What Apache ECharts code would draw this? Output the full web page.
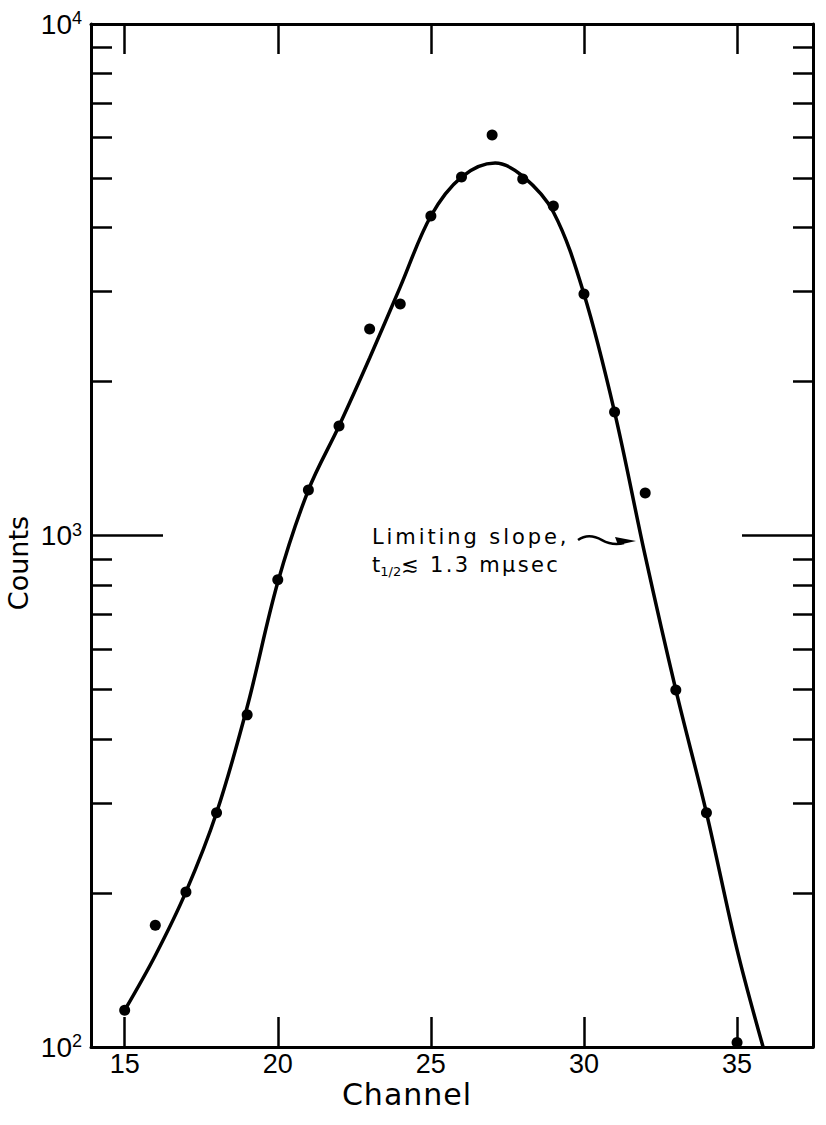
<!DOCTYPE html>
<html>
<head>
<meta charset="utf-8">
<script src="https://cdn.jsdelivr.net/npm/echarts@6/dist/echarts.min.js"></script>
<style>
  html, body { margin: 0; padding: 0; background: #ffffff; }
  #chart { width: 826px; height: 1125px; }
</style>
</head>
<body>
<div id="chart"></div>
<script>
// Measured counts per channel (points)
const channels = [15, 16, 17, 18, 19, 20, 21, 22, 23, 24, 25, 26, 27, 28, 29, 30, 31, 32, 33, 34, 35];
const counts   = [118, 173, 201, 287, 446, 819, 1227, 1637, 2534, 2836, 4213, 5020, 6070, 4977, 4408, 2966, 1743, 1211, 499, 287, 102];

// Hand-drawn fitted curve, sampled along its length
const fitChannels = [15, 16, 17, 18, 19, 20, 21, 22, 23, 24, 25, 26, 27.1, 28, 29, 30, 31, 32, 33, 34, 35, 35.85];
const fitCounts   = [118, 151, 201, 287, 462, 810, 1227, 1637, 2223, 3062, 4213, 5020, 5348, 5040, 4290, 2966, 1743, 912, 499, 287, 155, 100];

// Axis ticks and labels
const xTickValues   = [15, 20, 25, 30, 35];
const yLabelValues  = [100, 1000, 10000];
const yMinorTicks   = [200, 300, 400, 500, 600, 700, 800, 900, 2000, 3000, 4000, 5000, 6000, 7000, 8000, 9000];
const yMajorTicks   = [1000];

// Annotation pointing at the falling edge of the curve
const noteAnchor = [31.7, 975];
const noteLine1 = 'Limiting slope,';
const noteSub = '1/2';
const noteRest = '\u2272 1.3 m\u03bcsec';

const INK = '#000000';
const DIGIT_FONT = '"Liberation Sans Narrow", "Liberation Sans", Arial, sans-serif';
const WORD_FONT = '"DejaVu Sans", "Liberation Sans", sans-serif';

const X_MIN = 13.9, X_MAX = 37.48;

function xAxisCfg(position, showLabels) {
  return {
    type: 'value', position: position, min: X_MIN, max: X_MAX,
    splitLine: { show: false },
    axisLine: { show: true, onZero: false, lineStyle: { color: INK, width: 3 } },
    axisTick: { show: true, inside: true, length: 30, customValues: xTickValues, lineStyle: { color: INK, width: 2.5 } },
    axisLabel: {
      show: showLabels, customValues: xTickValues, margin: 3,
      color: INK, fontSize: 27, fontFamily: DIGIT_FONT
    }
  };
}

function yAxisCfg(position, ticks, len, showLine, showLabels) {
  return {
    type: 'log', logBase: 10, position: position, min: 100, max: 10000,
    splitLine: { show: false },
    axisLine: { show: showLine, onZero: false, lineStyle: { color: INK, width: 3 } },
    axisTick: { show: true, inside: true, length: len, customValues: ticks, lineStyle: { color: INK, width: 2.5 } },
    axisLabel: {
      show: showLabels, customValues: yLabelValues, margin: 9,
      formatter: function (v) {
        return '{b|10}{s|' + Math.round(Math.log10(v)) + '}';
      },
      rich: {
        b: { fontSize: 28, fontFamily: DIGIT_FONT, color: INK, lineHeight: 30 },
        s: { fontSize: 18, fontFamily: DIGIT_FONT, color: INK, lineHeight: 14, verticalAlign: 'top' }
      }
    }
  };
}

const chart = echarts.init(document.getElementById('chart'), null, { renderer: 'svg' });

chart.setOption({
  animation: false,
  backgroundColor: '#ffffff',
  grid: { left: 91, right: 13, top: 24, bottom: 78, containLabel: false },
  xAxis: [xAxisCfg('bottom', true), xAxisCfg('top', false)],
  yAxis: [
    yAxisCfg('left', yMinorTicks, 21, true, true),
    yAxisCfg('left', yMajorTicks, 72, false, false),
    yAxisCfg('right', yMinorTicks, 20, true, false),
    yAxisCfg('right', yMajorTicks, 71, false, false)
  ],
  graphic: [
    {
      type: 'text', x: 407, y: 1094,
      style: { text: 'Channel', fill: INK, font: '30px ' + WORD_FONT, textAlign: 'center', textVerticalAlign: 'middle' }
    },
    {
      type: 'text', x: 18, y: 563, rotation: Math.PI / 2,
      style: { text: 'Counts', fill: INK, font: '27px ' + WORD_FONT, textAlign: 'center', textVerticalAlign: 'middle' }
    }
  ],
  series: [
    {
      name: 'fit', type: 'line', xAxisIndex: 0, yAxisIndex: 0,
      data: fitChannels.map((c, i) => [c, fitCounts[i]]),
      smooth: 0.35, symbol: 'none', silent: true,
      lineStyle: { color: INK, width: 3.5 }
    },
    {
      name: 'counts', type: 'scatter', xAxisIndex: 0, yAxisIndex: 0,
      data: channels.map((c, i) => [c, counts[i]]),
      symbol: 'circle', symbolSize: 11, silent: true,
      itemStyle: { color: INK, opacity: 1 }
    },
    {
      name: 'note', type: 'custom', xAxisIndex: 0, yAxisIndex: 0, clip: false, silent: true,
      data: [noteAnchor],
      renderItem: function (params, api) {
        const p = api.coord([api.value(0), api.value(1)]);
        return {
          type: 'group', x: p[0], y: p[1],
          children: [
            {
              type: 'text', x: -264, y: -4,
              style: { text: noteLine1, fill: INK, fontSize: 21, fontFamily: WORD_FONT, textAlign: 'left', textVerticalAlign: 'middle' }
            },
            {
              type: 'text', x: -264, y: 24,
              style: {
                text: '{t|t}{sub|' + noteSub + '}{r|' + noteRest + '}',
                fill: INK, textAlign: 'left', textVerticalAlign: 'middle',
                rich: {
                  t: { fontSize: 21, fontFamily: WORD_FONT, lineHeight: 26 },
                  sub: { fontSize: 13, fontFamily: WORD_FONT, lineHeight: 12, verticalAlign: 'bottom' },
                  r: { fontSize: 21, fontFamily: WORD_FONT, lineHeight: 26 }
                }
              }
            },
            {
              type: 'path',
              shape: { pathData: 'M-58 -1 C-50 -7 -41 -5 -34 -1 C-27 3 -20 4 -12 2' },
              style: { stroke: INK, lineWidth: 2.5, fill: 'none' }
            },
            {
              type: 'polygon',
              shape: { points: [[0, 0], [-21, -4], [-18, 4]] },
              style: { fill: INK }
            }
          ]
        };
      }
    }
  ]
});

// Lettering spacing for the hand-lettered words
const spacing = { 'Channel': 1, 'Limiting slope,': 2.9, '\u2272 1.3 m\u03bcsec': 2.3 };
document.querySelectorAll('#chart text').forEach(function (t) {
  const s = spacing[t.textContent];
  if (s) t.style.letterSpacing = s + 'px';
});
</script>
</body>
</html>
